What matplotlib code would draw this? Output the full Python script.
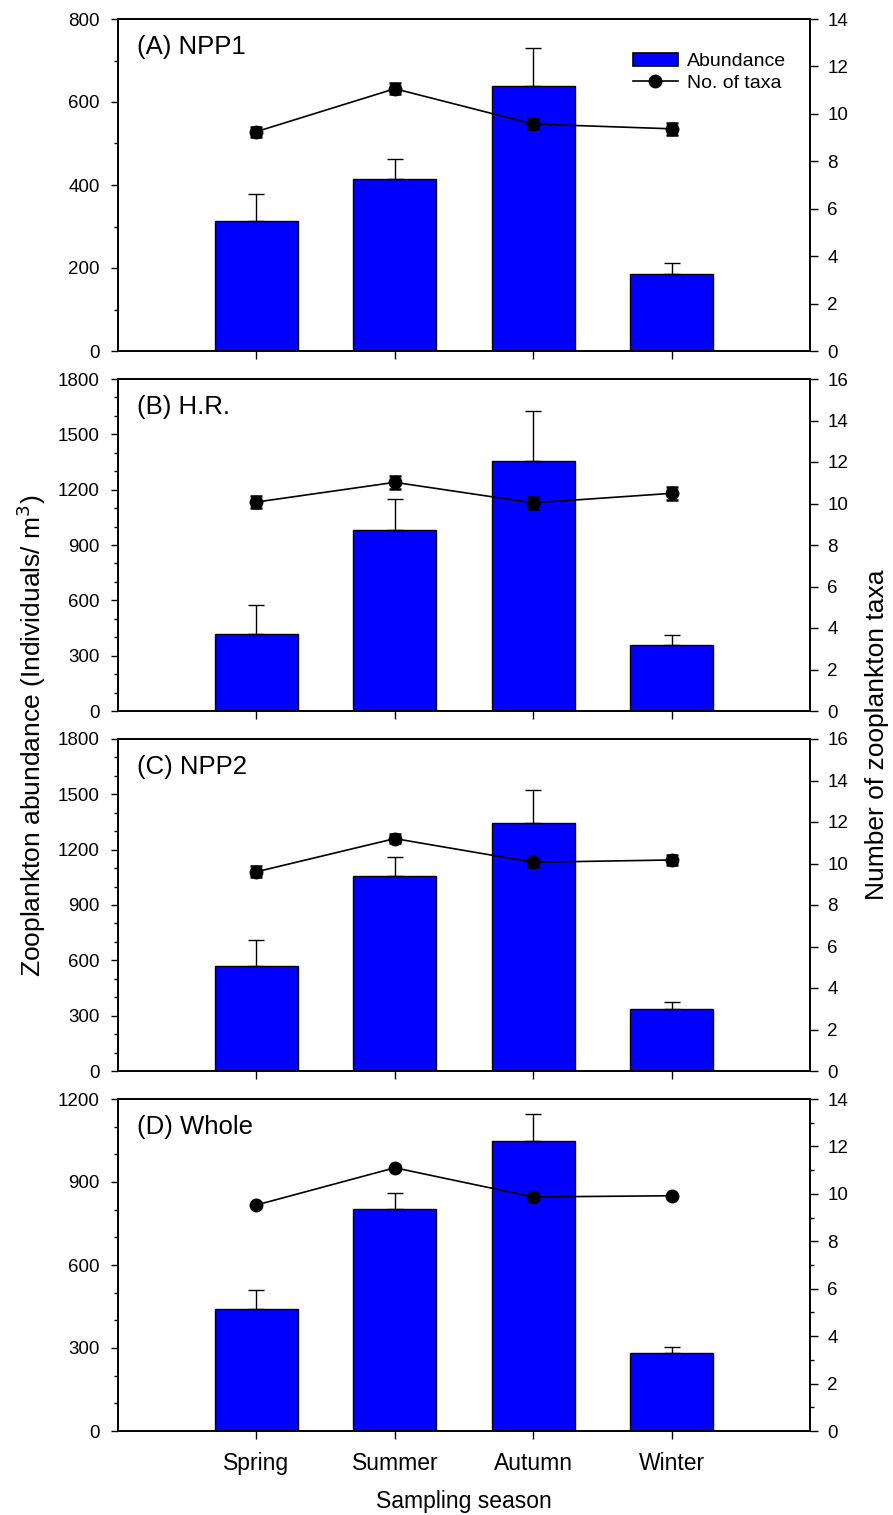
import matplotlib
matplotlib.use("Agg")
import matplotlib.pyplot as plt
from matplotlib.ticker import MultipleLocator, NullLocator
from matplotlib.patches import Patch
from matplotlib.lines import Line2D
import numpy as np

plt.rcParams['font.family'] = ['Liberation Sans', 'DejaVu Sans']

seasons = ["Spring", "Summer", "Autumn", "Winter"]
panel_labels = ["(A) NPP1", "(B) H.R.", "(C) NPP2", "(D) Whole"]

# Abundance (individuals / m3) and upper error
abund_A = [314, 414, 638, 185]
abund_err_A = [64, 49, 92, 27]
abund_B = [416, 983, 1357, 356]
abund_err_B = [159, 166, 271, 58]
abund_C = [571, 1056, 1346, 336]
abund_err_C = [139, 103, 176, 38]
abund_D = [440, 801, 1049, 282]
abund_err_D = [71, 59, 98, 23]

# Number of taxa and error
taxa_A = [9.25, 11.06, 9.57, 9.37]
taxa_err_A = [0.21, 0.23, 0.22, 0.25]
taxa_B = [10.07, 11.02, 10.03, 10.49]
taxa_err_B = [0.27, 0.32, 0.28, 0.31]
taxa_C = [9.6, 11.2, 10.06, 10.17]
taxa_err_C = [0.26, 0.2, 0.22, 0.22]
taxa_D = [9.53, 11.1, 9.87, 9.92]
taxa_err_D = [0.0, 0.0, 0.0, 0.0]

abund = [abund_A, abund_B, abund_C, abund_D]
abund_err = [abund_err_A, abund_err_B, abund_err_C, abund_err_D]
taxa = [taxa_A, taxa_B, taxa_C, taxa_D]
taxa_err = [taxa_err_A, taxa_err_B, taxa_err_C, taxa_err_D]

left_max = [800, 1800, 1800, 1200]
left_major = [200, 300, 300, 300]
right_max = [14, 16, 16, 14]
right_minor = [False, False, False, True]

W, H = 893, 1515
fig = plt.figure(figsize=(W / 100, H / 100), dpi=100)

ax_left = 118 / W
ax_w = (810 - 118) / W
tops = [19, 379, 739, 1099]
ph = 332

x = np.arange(1, 5)
for i in range(4):
    top = tops[i]
    ax = fig.add_axes([ax_left, 1 - (top + ph) / H, ax_w, ph / H])
    ax.bar(x, abund[i], width=0.6, color="#0000ff", edgecolor="black",
           linewidth=1.0, zorder=2)
    ax.errorbar(x, abund[i], yerr=[[0] * 4, abund_err[i]], fmt="none",
                ecolor="black", elinewidth=1.0, capsize=5.5, capthick=1.0,
                zorder=3)
    ax.set_xlim(0, 5)
    ax.set_ylim(0, left_max[i])
    ax.yaxis.set_major_locator(MultipleLocator(left_major[i]))
    ax.yaxis.set_minor_locator(MultipleLocator(100))
    ax.set_xticks(x)
    if i == 3:
        ax.set_xticklabels(seasons, fontsize=16.5)
    else:
        ax.set_xticklabels([])
    ax.tick_params(axis="x", which="major", direction="out", length=6,
                   width=1.0, pad=9, top=False)
    ax.tick_params(axis="y", which="major", direction="out", length=5,
                   width=1.0, pad=8, labelsize=13.5)
    ax.tick_params(axis="y", which="minor", direction="out", length=3,
                   width=1.0)
    for s in ax.spines.values():
        s.set_linewidth(1.2)

    ax2 = ax.twinx()
    ax2.plot(x, taxa[i], color="black", linewidth=1.2, marker="o",
             markersize=9, markerfacecolor="black", zorder=4)
    if any(e > 0 for e in taxa_err[i]):
        ax2.errorbar(x, taxa[i], yerr=taxa_err[i], fmt="none", ecolor="black",
                     elinewidth=1.2, capsize=4.5, capthick=1.8, zorder=4)
    ax2.set_ylim(0, right_max[i])
    ax2.yaxis.set_major_locator(MultipleLocator(2))
    if right_minor[i]:
        ax2.yaxis.set_minor_locator(MultipleLocator(1))
    else:
        ax2.yaxis.set_minor_locator(NullLocator())
    ax2.tick_params(axis="y", which="major", direction="out", length=5.5,
                    width=1.0, pad=7, labelsize=13.5)
    ax2.tick_params(axis="y", which="minor", direction="out", length=3,
                    width=1.0)
    for s in ax2.spines.values():
        s.set_linewidth(1.2)

    ax2.text(0.027, 0.915, panel_labels[i], transform=ax.transAxes,
             fontsize=18.5, ha="left", va="center")

    if i == 0:
        handles = [Patch(facecolor="#0000ff", edgecolor="black", linewidth=1.2),
                   Line2D([], [], color="black", linewidth=1.2, marker="o",
                          markersize=9)]
        ax2.legend(handles, ["Abundance", "No. of taxa"], loc="upper left",
                   bbox_to_anchor=(0.744, 0.898), frameon=False, fontsize=14,
                   handlelength=2.3, handletextpad=0.5, labelspacing=0.2,
                   borderpad=0, borderaxespad=0)

    if i == 3:
        ax.set_xlabel("Sampling season", fontsize=16.5, labelpad=11)

fig.text(31 / W, 1 - 736 / H, "Zooplankton abundance (Individuals/ m$^3$)",
         rotation=90, fontsize=19, ha="center", va="center")
fig.text(877 / W, 1 - 735 / H, "Number of zooplankton taxa",
         rotation=90, fontsize=19, ha="center", va="center")

fig.savefig("out.png", dpi=100)
